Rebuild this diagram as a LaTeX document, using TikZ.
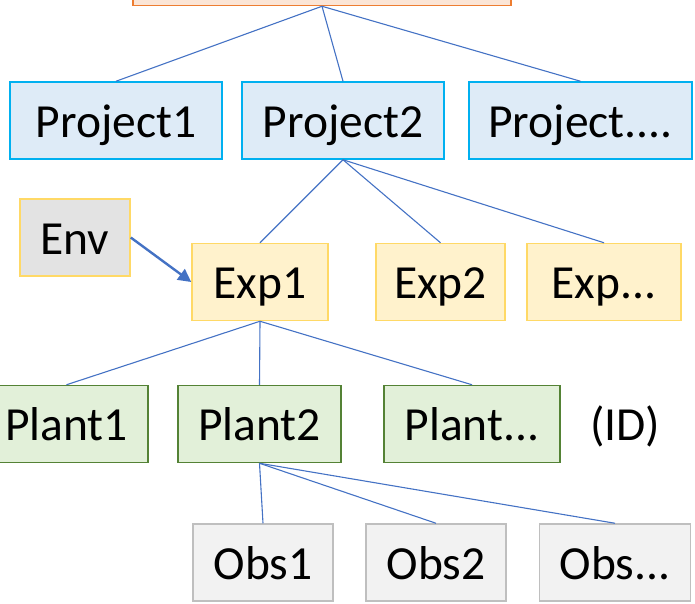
\documentclass[tikz,border=0pt]{standalone}
\usepackage{fontspec}
\setmainfont{Carlito}
\usetikzlibrary{arrows.meta}
\definecolor{linkblue}{HTML}{4472C4}
\definecolor{projfill}{HTML}{DEEBF7}
\definecolor{projline}{HTML}{00B0F0}
\definecolor{expfill}{HTML}{FFF2CC}
\definecolor{expline}{HTML}{FFD966}
\definecolor{envfill}{HTML}{E3E3E3}
\definecolor{plantfill}{HTML}{E2F0D9}
\definecolor{plantline}{HTML}{548235}
\definecolor{obsfill}{HTML}{F2F2F2}
\definecolor{obsline}{HTML}{BFBFBF}
\definecolor{topfill}{HTML}{FBE5D6}
\definecolor{topline}{HTML}{ED7D31}
% separate full stops (keeps the font from merging them into an ellipsis)
\newcommand{\pd}{.\kern0pt}
\tikzset{
  label text/.style={inner sep=0pt, font=\fontsize{47.5}{56}\selectfont,
    text height=38pt, text depth=5pt},
  box/.style={label text, draw, rectangle, line width=1.5pt, minimum height=77pt},
  topbox/.style={box, fill=topfill, draw=topline},
  projbox/.style={box, fill=projfill, draw=projline},
  expbox/.style={box, fill=expfill, draw=expline},
  envbox/.style={box, fill=envfill, draw=expline},
  plantbox/.style={box, fill=plantfill, draw=plantline},
  obsbox/.style={box, fill=obsfill, draw=obsline},
  link/.style={draw=linkblue, line width=1.1pt},
  envlink/.style={draw=linkblue, line width=2.4pt, -{Triangle[length=13pt,width=13pt]}}
}
\begin{document}
\begin{tikzpicture}[x=1pt,y=-1pt]
\useasboundingbox (0,0) rectangle (695,603);
\clip (0,0) rectangle (695,603);

% root box (only its lower edge shows)
\node[topbox, minimum width=378pt, minimum height=40pt] (root) at (322,-16) {};

% projects
\node[projbox, minimum width=212pt] (p1) at (116,120.5) {Project1};
\node[projbox, minimum width=202pt] (p2) at (343,120.5) {Project2};
\node[projbox, minimum width=223pt] (p3) at (580.5,120.5) {Project\pd\pd\pd\pd};

% environment and experiments
\node[envbox, minimum width=110pt] (env) at (75,237.5) {Env};
\node[expbox, minimum width=136pt] (e1) at (260,282) {Exp1};
\node[expbox, minimum width=129pt] (e2) at (440.5,282) {Exp2};
\node[expbox, minimum width=154pt] (e3) at (604,282) {Exp\pd\pd\pd};

% plants
\node[plantbox, minimum width=163pt] (pl1) at (66.5,424) {Plant1};
\node[plantbox, minimum width=163pt] (pl2) at (259.5,424) {Plant2};
\node[plantbox, minimum width=176pt] (pl3) at (472,424) {Plant\pd\pd\pd};
\node[label text] (id) at (625,424) {(ID)};

% observations
\node[obsbox, minimum width=140pt] (o1) at (263,562.5) {Obs1};
\node[obsbox, minimum width=140pt] (o2) at (436,562.5) {Obs2};
\node[obsbox, minimum width=151pt] (o3) at (615,562.5) {Obs\pd\pd\pd};

% hierarchy links
\foreach \c in {p1,p2,p3} \draw[link] (root.south) -- (\c.north);
\foreach \c in {e1,e2,e3} \draw[link] (p2.south) -- (\c.north);
\foreach \c in {pl1,pl2,pl3} \draw[link] (e1.south) -- (\c.north);
\foreach \c in {o1,o2,o3} \draw[link] (pl2.south) -- (\c.north);

% environment feeds the experiment
\draw[envlink] (env.east) -- (e1.west);
\end{tikzpicture}
\end{document}
